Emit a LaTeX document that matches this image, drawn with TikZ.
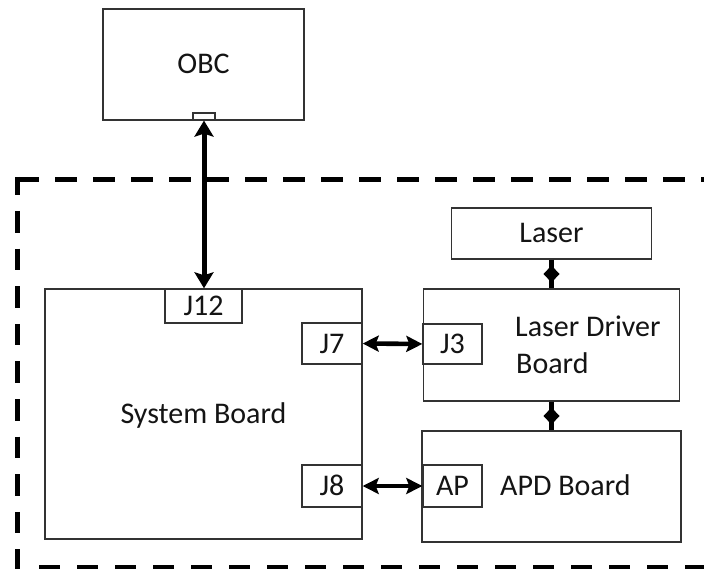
\documentclass[tikz,border=0pt]{standalone}
\usepackage{fontspec}
\setmainfont{Carlito}
\usetikzlibrary{arrows.meta}
\begin{document}
\begin{tikzpicture}[x=1pt,y=-1pt,
  box/.style={draw=black!80, line width=1.4pt, fill=white, inner sep=0pt,
    font=\fontsize{30}{36}\selectfont, text=black!92, text height=19pt, text depth=0pt},
  lbl/.style={font=\fontsize{30}{36}\selectfont, text=black!92, inner sep=0pt, anchor=base west},
  port/.style={draw=black!80, line width=1.2pt, fill=white, inner sep=0pt, text height=0pt, text depth=0pt},
  frame/.style={line width=5pt, black},
  vlink/.style={line width=5pt, {Stealth[length=16pt,width=19pt,inset=3pt]}-{Stealth[length=16pt,width=19pt,inset=3pt]}},
  hlink/.style={line width=4.6pt, {Stealth[length=16pt,width=16pt,inset=3pt]}-{Stealth[length=16pt,width=16pt,inset=3pt]}},
  dlink/.style={line width=5.5pt},
  dmd/.style={fill=black}
]
\useasboundingbox (0,0) rectangle (704,569);
\clip (0,0) rectangle (704,569);

% dashed enclosure
\draw[frame, dash pattern=on 22pt off 16pt] (17,179.5) -- (720,179.5);
\draw[frame, dash pattern=on 21.6pt off 16pt, dash phase=3.6pt] (17.5,177) -- (17.5,590);
\draw[frame, dash pattern=on 21pt off 17pt] (39,567.5) -- (720,567.5);

% boxes
\node[box, minimum width=201pt, minimum height=111pt] (obc) at (203.5,64.5) {OBC};
\node[port, minimum width=22pt, minimum height=7pt] (obcport) at (204,116.5) {};
\node[box, minimum width=317pt, minimum height=250pt] (sys) at (203.5,414) {System Board};
\node[box, minimum width=77pt, minimum height=34pt] (j12) at (203.5,306) {J12};
\node[box, minimum width=60pt, minimum height=41pt] (j7) at (332,343.5) {J7};
\node[box, minimum width=60pt, minimum height=42pt] (j8) at (332,486) {J8};

\node[box, minimum width=200pt, minimum height=51pt] (laser) at (551.5,233.5) {Laser};
\node[box, minimum width=256pt, minimum height=112pt] (ldb) at (551.5,345) {};
\node[lbl] (ldbt1) at (515,337) {Laser Driver};
\node[lbl] (ldbt2) at (516,373) {Board};
\node[box, minimum width=59pt, minimum height=40pt] (j3) at (452.5,344) {J3};

\node[box, minimum width=259pt, minimum height=111pt] (apd) at (551.5,486.5) {};
\node[lbl] (apdt) at (500,495) {APD Board};
\node[box, minimum width=59pt, minimum height=42pt] (ap) at (452.5,486) {AP};

% connectors
\draw[vlink] (obcport.south) -- (obcport.south |- j12.north);
\draw[hlink] (j7.east) -- (j3.west);
\draw[hlink] (j8.east) -- (ap.west);
\draw[dlink] (laser.south) -- coordinate[pos=0.5] (d1) (ldb.north);
\draw[dlink] (ldb.south) -- coordinate[pos=0.5] (d2) (apd.north);
\fill[dmd] (d1) ++(0,-8.5) -- ++(8,8.5) -- ++(-8,8.5) -- ++(-8,-8.5) -- cycle;
\fill[dmd] (d2) ++(0,-8.5) -- ++(8,8.5) -- ++(-8,8.5) -- ++(-8,-8.5) -- cycle;
\end{tikzpicture}
\end{document}
